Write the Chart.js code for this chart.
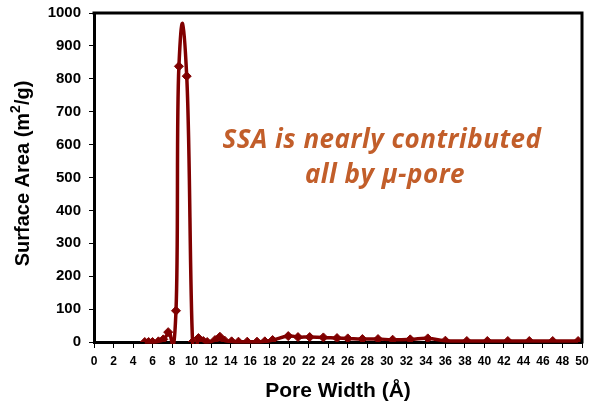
<!DOCTYPE html>
<html>
<head>
<meta charset="utf-8">
<script src="https://cdn.jsdelivr.net/npm/chart.js@4.4.0/dist/chart.umd.min.js"></script>
<style>
  html, body { margin: 0; padding: 0; background: #ffffff; }
  #wrap { width: 589px; height: 406px; position: relative; }
</style>
</head>
<body>
<div id="wrap"><canvas id="pore-chart"></canvas></div>
<script>
// pore width (Å) and surface area (m2/g)
const poreWidth = [5.2, 5.6, 6.0, 6.6, 7.1, 7.6, 8.4, 8.7, 9.5, 10.1, 10.7, 11.2, 11.6, 12.4, 12.9, 13.4,
    14.1, 14.8, 15.7, 16.7, 17.5, 18.3, 19.9, 20.9, 22.1, 23.5, 24.9, 26.0, 27.5, 29.1, 30.6,
    32.4, 34.2, 36.0, 38.2, 40.3, 42.4, 44.6, 47.0, 49.6]
const surfaceArea = [0, 0, 0, 2, 8, 30, 95, 838, 808, 0, 12, 3, 0, 6, 16, 4,
    2, 1, 1, 1, 2, 6, 18, 15, 15, 14, 12, 11, 9, 9, 7,
    8, 11, 4, 3, 3, 3, 3, 3, 3]

const xMin = 0, xMax = 50, xStep = 2
const yMin = 0, yMax = 1000, yStep = 100
const yTitle = ['Surface Area (m', '2', '/g)']
const noteLines = ['SSA is nearly contributed', 'all by \u03bc-pore']

const lineColor = '#800000'
const noteColor = '#c25e2a'
const font = "'Liberation Sans', Arial, sans-serif"

// Excel style smoothed line through the points
const smoothLine = {
    id: 'smoothLine',
    beforeDatasetsDraw(chart) {
        const pts = chart.getDatasetMeta(0).data
        const area = chart.chartArea
        const ctx = chart.ctx
        const k = 0.25
        ctx.save()
        ctx.beginPath()
        ctx.rect(area.left, area.top - 2, area.right - area.left, area.bottom - area.top + 4)
        ctx.clip()
        ctx.beginPath()
        ctx.moveTo(pts[0].x, pts[0].y)
        for (let i = 0; i < pts.length - 1; i++) {
            const p0 = pts[Math.max(i - 1, 0)]
            const p1 = pts[i]
            const p2 = pts[i + 1]
            const p3 = pts[Math.min(i + 2, pts.length - 1)]
            ctx.bezierCurveTo(
                p1.x + (p2.x - p0.x) * k, p1.y + (p2.y - p0.y) * k,
                p2.x - (p3.x - p1.x) * k, p2.y - (p3.y - p1.y) * k,
                p2.x, p2.y)
        }
        ctx.lineWidth = 3.5
        ctx.lineJoin = 'round'
        ctx.strokeStyle = lineColor
        ctx.stroke()
        ctx.restore()
    }
}

// box round the plot, y title with a real superscript, and the note
const frameAndNote = {
    id: 'frameAndNote',
    afterDraw(chart) {
        const ctx = chart.ctx
        const a = chart.chartArea
        ctx.save()
        ctx.strokeStyle = '#000000'
        ctx.lineWidth = 3
        ctx.beginPath()
        ctx.moveTo(a.left - 1.5, a.top)
        ctx.lineTo(a.right, a.top)
        ctx.lineTo(a.right, a.bottom + 1.5)
        ctx.stroke()

        // y title
        ctx.save()
        ctx.translate(23, (a.top + a.bottom) / 2 - 4)
        ctx.rotate(-Math.PI / 2)
        ctx.fillStyle = '#000000'
        ctx.textBaseline = 'middle'
        ctx.textAlign = 'left'
        const big = 'bold 20px ' + font
        const small = 'bold 14px ' + font
        ctx.font = big
        const w0 = ctx.measureText(yTitle[0]).width
        const w2 = ctx.measureText(yTitle[2]).width
        ctx.font = small
        const w1 = ctx.measureText(yTitle[1]).width
        let x = -(w0 + w1 + w2) / 2
        ctx.font = big
        ctx.fillText(yTitle[0], x, 0)
        x += w0
        ctx.font = small
        ctx.fillText(yTitle[1], x, -7)
        x += w1
        ctx.font = big
        ctx.fillText(yTitle[2], x, 0)
        ctx.restore()

        ctx.fillStyle = noteColor
        ctx.font = "italic bold 26px 'Open Sans', Lato, sans-serif"
        ctx.letterSpacing = '0.5px'
        ctx.textAlign = 'center'
        ctx.textBaseline = 'middle'
        ctx.fillText(noteLines[0], 382, 141)
        ctx.fillText(noteLines[1], 385, 176)
        ctx.restore()
    }
}

new Chart(document.getElementById('pore-chart'), {
    type: 'scatter',
    data: {
        datasets: [
            {
                label: 'Surface Area',
                data: poreWidth.map((x, i) => ({ x: x, y: surfaceArea[i] })),
                showLine: false,
                pointStyle: 'rectRot',
                pointRadius: 4.5,
                pointHoverRadius: 4.5,
                backgroundColor: lineColor,
                borderColor: lineColor,
                borderWidth: 1
            }
        ]
    },
    options: {
        animation: false,
        responsive: true,
        maintainAspectRatio: false,
        layout: {
            padding: 0
        },
        plugins: {
            legend: { display: false },
            tooltip: { enabled: false }
        },
        scales: {
            x: {
                type: 'linear',
                min: xMin,
                max: xMax,
                afterFit: (scale) => {
                    scale.height = 64
                    scale.paddingLeft = 0
                    scale.paddingRight = 7
                },
                border: { color: '#000000', width: 3 },
                grid: { drawOnChartArea: false, drawTicks: true, tickLength: 6, color: '#000000', lineWidth: 1 },
                ticks: {
                    stepSize: xStep,
                    autoSkip: false,
                    maxRotation: 0,
                    padding: 6,
                    color: '#000000',
                    font: { family: font, size: 12, weight: 'bold' }
                },
                title: {
                    display: true,
                    text: 'Pore Width (\u00c5)',
                    color: '#000000',
                    padding: { top: 0, bottom: 2 },
                    font: { family: font, size: 21, weight: 'bold' }
                }
            },
            y: {
                min: yMin,
                max: yMax,
                afterFit: (scale) => {
                    scale.width = 94
                    scale.paddingTop = 13
                    scale.paddingBottom = 0
                },
                border: { color: '#000000', width: 3 },
                grid: { drawOnChartArea: false, drawTicks: true, tickLength: 5, color: '#000000', lineWidth: 1 },
                ticks: {
                    stepSize: yStep,
                    padding: 8,
                    color: '#000000',
                    font: { family: font, size: 15, weight: 'bold' },
                    callback: (value) => String(value)
                },
                title: { display: false }
            }
        }
    },
    plugins: [smoothLine, frameAndNote]
})
</script>
</body>
</html>
